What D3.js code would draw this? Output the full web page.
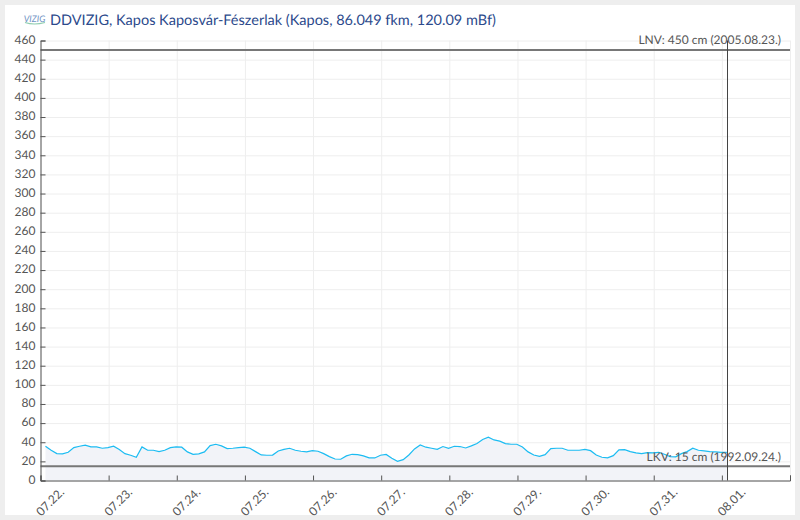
<!DOCTYPE html>
<html>
<head>
<meta charset="utf-8">
<script src="https://cdn.jsdelivr.net/npm/d3@7"></script>
<style>
  html, body { margin: 0; padding: 0; background: #eeeeee; }
  svg { display: block; font-family: Lato, sans-serif; text-rendering: geometricPrecision; }
  .grid line { stroke: #eeeeee; stroke-width: 1; }
  .grid path { display: none; }
  .axis path, .axis line { stroke: #555555; stroke-width: 1; }
  .axis text { fill: #555555; font-size: 12px; font-family: Lato, sans-serif; }
  .limit-text { fill: #555555; font-size: 12px; }
</style>
</head>
<body>
<svg id="chart" width="800" height="520"></svg>
<script>
const titleText = 'DDVIZIG, Kapos Kaposvár-Fészerlak (Kapos, 86.049 fkm, 120.09 mBf)';

const dayLabels = ['07.22.', '07.23.', '07.24.', '07.25.', '07.26.', '07.27.', '07.28.', '07.29.', '07.30.', '07.31.', '08.01.'];
const yTicks = [0, 20, 40, 60, 80, 100, 120, 140, 160, 180, 200, 220, 240, 260, 280, 300, 320, 340, 360, 380, 400, 420, 440, 460];

// water level in cm, one reading every two hours
const levels = [
  35.8, 31.6, 28.1, 27.8, 29.5, 34.4, 35.8, 36.9, 35.1, 35.1,
  33.7, 34.4, 35.8, 32.3, 28.1, 26.4, 24.3, 35.1, 31.6, 31.6,
  30.2, 31.6, 34.4, 35.1, 34.8, 29.9, 27.4, 27.8, 29.9, 36.5,
  37.9, 36.2, 33.4, 33.7, 34.4, 34.8, 33.7, 30.2, 26.7, 26.4,
  26.6, 30.9, 32.6, 33.7, 31.6, 30.6, 29.9, 31.2, 30.6, 28.1,
  25.0, 22.5, 22.2, 25.7, 27.4, 27.0, 25.7, 23.6, 23.6, 26.4,
  27.2, 23.2, 20.0, 21.8, 26.7, 33.0, 37.2, 34.8, 33.7, 32.6,
  35.5, 33.7, 35.8, 35.5, 34.0, 36.2, 38.6, 42.8, 45.2, 42.4,
  41.2, 38.6, 37.9, 37.9, 35.1, 29.9, 26.7, 25.3, 27.0, 33.4,
  33.7, 33.7, 31.6, 31.6, 31.6, 32.6, 31.2, 26.7, 24.3, 23.6,
  26.0, 32.0, 32.3, 30.2, 28.8, 28.1, 29.2, 28.8, 29.5, 27.4,
  25.0, 24.7, 28.1, 30.2, 33.7, 31.6, 30.9, 30.2, 29.9, 29.5, 29.5
];

const lnvValue = 450;
const lkvValue = 15;
const lnvText = 'LNV: 450 cm (2005.08.23.)';
const lkvText = 'LKV: 15 cm (1992.09.24.)';

const startDay = new Date(Date.UTC(2021, 6, 22));
const endDay = new Date(Date.UTC(2021, 7, 2));
const firstReading = new Date(Date.UTC(2021, 6, 22, 1, 45));
const twoHours = 2 * 3600 * 1000;
const readingTime = i => new Date(firstReading.getTime() + i * twoHours);
const dayTicks = d3.utcDay.range(startDay, d3.utcDay.offset(endDay, 1));
const nowTime = readingTime(levels.length - 1);

const svg = d3.select('#chart');
const margin = {top: 40, right: 10, bottom: 40, left: 40.5};
const width = +svg.attr('width');
const height = +svg.attr('height');

svg.append('rect')
    .attr('x', 5).attr('y', 5)
    .attr('width', 790).attr('height', 510)
    .attr('fill', '#ffffff');

const xScale = d3.scaleUtc()
    .domain([startDay, endDay])
    .range([margin.left, width - margin.right]);

const yScale = d3.scaleLinear()
    .domain([0, 460])
    .range([height - margin.bottom + 0.5, margin.top + 0.5]);

// grid
svg.append('g').attr('class', 'grid')
    .attr('transform', `translate(0, ${margin.top + 0.5})`)
    .call(d3.axisBottom(xScale).tickValues(dayTicks).tickSize(yScale(0) - yScale(460)).tickFormat(''));

svg.append('g').attr('class', 'grid')
    .attr('transform', `translate(${margin.left}, 0)`)
    .call(d3.axisRight(yScale).tickValues(yTicks).tickSize(xScale(endDay) - xScale(startDay)).tickFormat(''));

// water level
const area = d3.area()
    .x((d, i) => xScale(readingTime(i)))
    .y0(yScale(0))
    .y1(d => yScale(d));

const line = d3.line()
    .x((d, i) => xScale(readingTime(i)))
    .y(d => yScale(d));

svg.append('path')
    .datum(levels)
    .attr('d', area)
    .attr('fill', '#f2f3f8');

svg.append('path')
    .datum(levels)
    .attr('d', line)
    .attr('fill', 'none')
    .attr('stroke', '#1cbcf2')
    .attr('stroke-width', 1.2);

// limit lines
[lnvValue, lkvValue].forEach(v => {
    svg.append('line')
        .attr('x1', xScale(startDay)).attr('x2', xScale(endDay))
        .attr('y1', yScale(v)).attr('y2', yScale(v))
        .attr('stroke', '#777777')
        .attr('stroke-width', 2);
});

svg.append('text').attr('class', 'limit-text')
    .attr('x', 781).attr('y', yScale(lnvValue) - 6)
    .attr('text-anchor', 'end')
    .text(lnvText);

svg.append('text').attr('class', 'limit-text')
    .attr('x', 781).attr('y', yScale(lkvValue) - 5)
    .attr('text-anchor', 'end')
    .text(lkvText);

// current time
const nowX = Math.floor(xScale(nowTime)) + 1.5;
svg.append('line')
    .attr('x1', nowX).attr('x2', nowX)
    .attr('y1', yScale(460)).attr('y2', yScale(0))
    .attr('stroke', '#444444')
    .attr('stroke-width', 1);

// axes
const xAxis = d3.axisBottom(xScale)
    .tickValues(dayTicks)
    .tickSize(-5)
    .tickFormat((d, i) => dayLabels[i] || '');

svg.append('g').attr('class', 'axis')
    .attr('transform', `translate(0, ${yScale(0)})`)
    .call(xAxis)
    .selectAll('text')
    .attr('text-anchor', 'end')
    .attr('transform', 'translate(21, 9.5) rotate(-45)')
    .attr('x', 0).attr('y', 0).attr('dy', '0.35em');

const yAxis = d3.axisLeft(yScale)
    .tickValues(yTicks)
    .tickSize(-5)
    .tickPadding(5)
    .tickFormat(d => d);

svg.append('g').attr('class', 'axis')
    .attr('transform', `translate(${margin.left}, 0)`)
    .call(yAxis)
    .selectAll('text')
    .attr('y', -1);

// title
const logo = svg.append('g').attr('transform', 'translate(24, 14)');
logo.append('text')
    .attr('x', 10.5).attr('y', 8)
    .attr('text-anchor', 'middle')
    .attr('font-size', 9)
    .attr('font-style', 'italic')
    .attr('fill', '#6f92c4')
    .text('VIZIG');
logo.append('path')
    .attr('d', 'M1 8.5 Q10 11.5 21 8.5')
    .attr('fill', 'none')
    .attr('stroke', '#8fcdb0')
    .attr('stroke-width', 1.2);

svg.append('text')
    .attr('x', 50).attr('y', 25)
    .attr('font-size', 14.5)
    .attr('fill', '#2c4a8c')
    .text(titleText);
</script>
</body>
</html>
